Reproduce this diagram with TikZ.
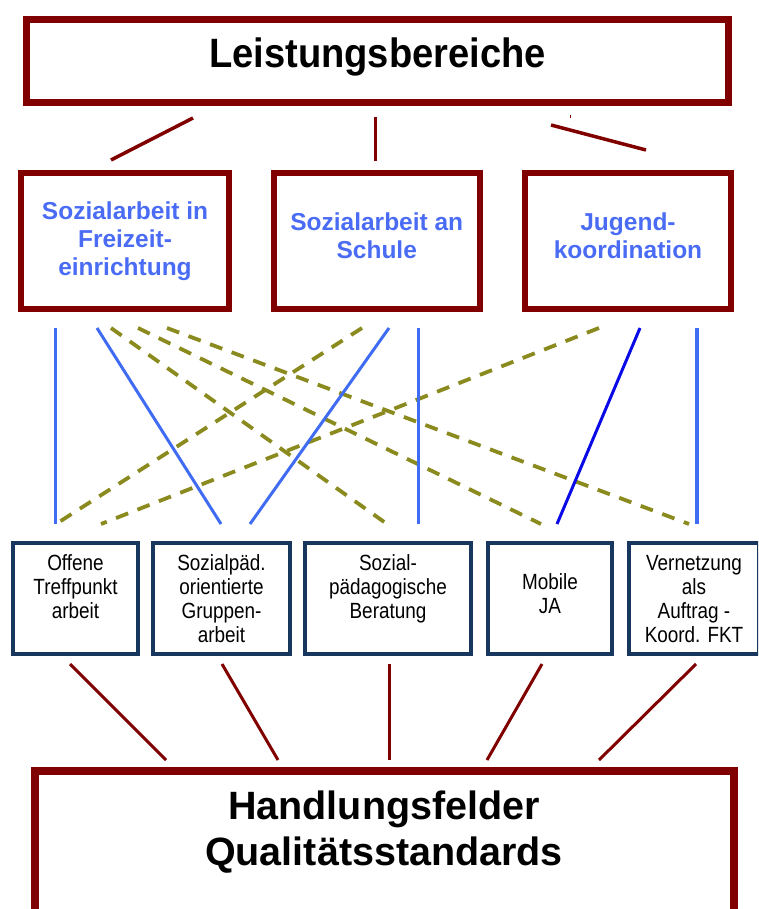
\documentclass[tikz,border=0pt]{standalone}
\usepackage{fontspec}
\setmainfont{Liberation Sans}
\newfontfamily\ftop{Liberation Sans}[FakeStretch=0.93]
\newfontfamily\flow{Liberation Sans}[FakeStretch=0.86]
\definecolor{maroon}{HTML}{800000}
\definecolor{navy}{HTML}{17375E}
\definecolor{txtblue}{HTML}{4A6CF5}
\definecolor{lineblue}{HTML}{3F6CF2}
\definecolor{darkblue}{HTML}{0A0AE6}
\definecolor{olivedash}{HTML}{8A8A1E}
\begin{document}
\begin{tikzpicture}[x=1pt,y=-1pt,
  bigbox/.style={draw=maroon, line width=7pt, inner sep=0pt},
  midbox/.style={draw=maroon, line width=6pt, inner sep=0pt, minimum width=207pt, minimum height=136pt},
  lowbox/.style={draw=navy, line width=4pt, inner sep=0pt, minimum height=111pt},
  toptxt/.style={font=\ftop\bfseries\fontsize{41}{48}\selectfont, inner sep=0pt},
  bigtxt/.style={font=\bfseries\fontsize{39.5}{46}\selectfont, inner sep=0pt},
  midtxt/.style={font=\bfseries\fontsize{24.5}{28}\selectfont, text=txtblue, align=center, inner sep=0pt},
  lowtxt/.style={font=\flow\fontsize{22}{24}\selectfont, align=center, inner sep=0pt},
  toplink/.style={maroon, line width=3.5pt},
  botlink/.style={maroon, line width=3pt},
  sol/.style={lineblue, line width=3pt},
  soldark/.style={darkblue, line width=3pt},
  dsh/.style={olivedash, line width=3.8pt, dash pattern=on 13pt off 10pt}
]
\clip (0,0) rectangle (758,909);
% top box
\node[bigbox, minimum width=702pt, minimum height=83pt] (top) at (377.5,61) {};
\node[toptxt, anchor=base] (toptext) at (377.5,68) {Leistungsbereiche};
% middle boxes
\node[midbox, minimum width=208pt] (m1) at (125,241) {};
\node[midbox, minimum width=206.5pt] (m2) at (376.75,241) {};
\node[midbox, minimum width=206pt] (m3) at (628,241) {};
\node[midtxt] (m1t) at (125,241.5) {Sozialarbeit in\\Freizeit-\\einrichtung};
\node[midtxt] (m2t) at (376.75,236) {Sozialarbeit an\\Schule};
\node[midtxt] (m3t) at (628,236) {Jugend-\\koordination};
% lower boxes
\node[lowbox, minimum width=125pt] (b1) at (75.5,598.5) {};
\node[lowbox, minimum width=137pt] (b2) at (221.5,598.5) {};
\node[lowbox, minimum width=166pt] (b3) at (388,598.5) {};
\node[lowbox, minimum width=124pt] (b4) at (550,598.5) {};
\node[lowbox, minimum width=130pt] (b5) at (694,598.5) {};
\node[lowtxt] (b1t) at (75.5,587) {Offene\\Treffpunkt\\arbeit};
\node[lowtxt] (b2t) at (221.5,599) {Sozialpäd.\\orientierte\\Gruppen-\\arbeit};
\node[lowtxt] (b3t) at (388,589) {Sozial-\\pädagogische\\Beratung};
\node[lowtxt] (b4t) at (550,594) {Mobile\\JA};
\node[lowtxt] (b5t) at (694,599) {Vernetzung\\als\\Auftrag -\\Koord. FKT};
% bottom box
\node[bigbox, line width=8pt, minimum width=699pt, minimum height=189pt] (bot) at (384.5,865.5) {};
\node[bigtxt, anchor=base] (bott1) at (384,819) {Handlungsfelder};
\node[bigtxt, anchor=base] (bott2) at (384,865) {Qualitätsstandards};
% top connectors
\coordinate (ta1) at (193,118); \coordinate (ta2) at (111,160);
\coordinate (tb1) at (375.5,117); \coordinate (tb2) at (375.5,161);
\coordinate (tc1) at (551,125); \coordinate (tc2) at (646,150);
\coordinate (dot1) at (570.5,115.5); \coordinate (dot2) at (570.5,118);
\draw[toplink] (ta1) -- (ta2);
\draw[toplink] (tb1) -- (tb2);
\draw[toplink] (tc1) -- (tc2);
\draw[maroon, line width=1pt] (dot1) -- (dot2);
% middle connectors
\coordinate (u1) at (55,328);  \coordinate (l1) at (55,524);
\coordinate (u2) at (97,328);  \coordinate (l2) at (221,524);
\coordinate (u3) at (389,328); \coordinate (l3) at (250,524);
\coordinate (u4) at (418,328); \coordinate (l4) at (418,524);
\coordinate (u5) at (640,328); \coordinate (l5) at (557,524);
\coordinate (u6) at (697,328); \coordinate (l6) at (697,524);
\coordinate (d1a) at (111,328); \coordinate (d1b) at (387,524);
\coordinate (d2a) at (138,328); \coordinate (d2b) at (541,524);
\coordinate (d3a) at (167,328); \coordinate (d3b) at (689,524);
\coordinate (d4a) at (362,328); \coordinate (d4b) at (56,524);
\coordinate (d5a) at (599,328); \coordinate (d5b) at (101,524);
\draw[dsh] (d1a) -- (d1b);
\draw[dsh] (d2a) -- (d2b);
\draw[dsh] (d3a) -- (d3b);
\draw[dsh] (d4a) -- (d4b);
\draw[dsh] (d5a) -- (d5b);
\draw[sol] (u1) -- (l1);
\draw[sol] (u2) -- (l2);
\draw[sol] (u3) -- (l3);
\draw[sol] (u4) -- (l4);
\draw[soldark] (u5) -- (l5);
\draw[sol, line width=4pt] (u6) -- (l6);
% bottom connectors
\coordinate (p1) at (70,664);  \coordinate (q1) at (166,760);
\coordinate (p2) at (222,664); \coordinate (q2) at (278,760);
\coordinate (p3) at (389.5,664); \coordinate (q3) at (389.5,760);
\coordinate (p4) at (542,664); \coordinate (q4) at (487,760);
\coordinate (p5) at (696,664); \coordinate (q5) at (599,760);
\draw[botlink] (p1) -- (q1);
\draw[botlink] (p2) -- (q2);
\draw[botlink] (p3) -- (q3);
\draw[botlink] (p4) -- (q4);
\draw[botlink] (p5) -- (q5);
\end{tikzpicture}
\end{document}
